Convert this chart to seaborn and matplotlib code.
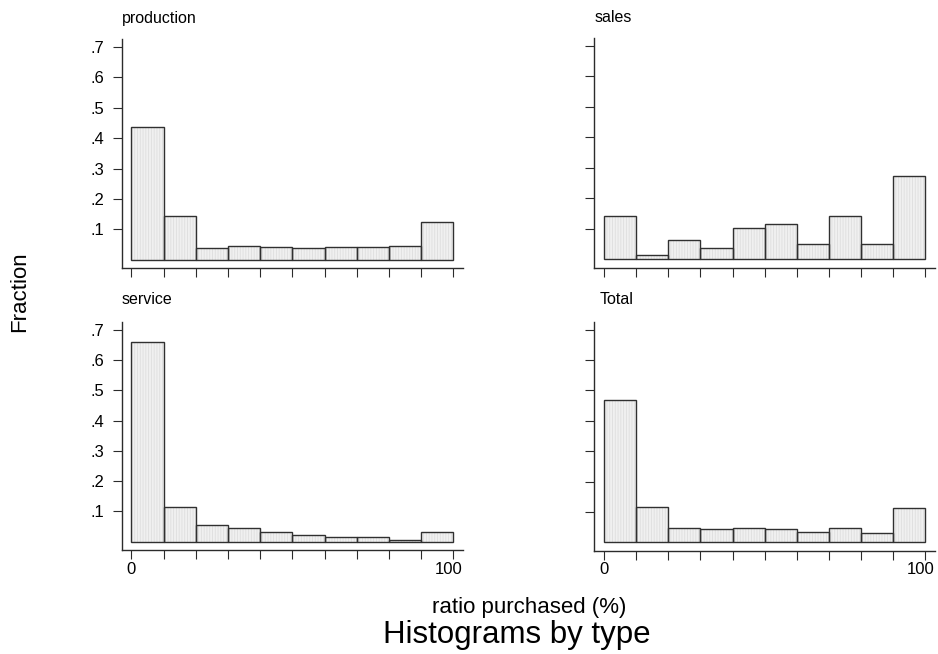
import numpy as np
import pandas as pd
import matplotlib
matplotlib.use("Agg")
import matplotlib.pyplot as plt
import matplotlib.transforms as mtransforms
import seaborn as sns

# ---- data (fractions per 10-point bin of "ratio purchased (%)") ----
bin_edges = [0, 10, 20, 30, 40, 50, 60, 70, 80, 90, 100]
panels = ["production", "sales", "service", "Total"]
production = [0.436, 0.145, 0.040, 0.046, 0.041, 0.039, 0.042, 0.042, 0.046, 0.123]
sales      = [0.142, 0.013, 0.063, 0.039, 0.102, 0.115, 0.052, 0.142, 0.052, 0.272]
service    = [0.658, 0.116, 0.056, 0.045, 0.033, 0.022, 0.017, 0.017, 0.005, 0.033]
total      = [0.467, 0.115, 0.047, 0.044, 0.047, 0.044, 0.034, 0.047, 0.032, 0.113]
y_ticks = [0.1, 0.2, 0.3, 0.4, 0.5, 0.6, 0.7]
y_tick_labels = [".1", ".2", ".3", ".4", ".5", ".6", ".7"]
x_tick_labels = {0: "0", 100: "100"}

series = {"production": production, "sales": sales, "service": service, "Total": total}
centers = [(a + b) / 2 for a, b in zip(bin_edges[:-1], bin_edges[1:])]

sns.set_theme(style="white")
plt.rcParams["font.family"] = ["Liberation Sans", "DejaVu Sans"]
plt.rcParams["text.color"] = "black"
plt.rcParams["hatch.linewidth"] = 0.6

W, H = 938, 654
fig = plt.figure(figsize=(W / 100, H / 100), dpi=100)

# panel boxes in pixels: left, right, top, bottom
boxes = {
    "production": (121.7, 463, 39, 268),
    "sales": (594.3, 935, 38, 267.7),
    "service": (121.7, 463, 321.7, 550),
    "Total": (594.3, 935, 321.7, 550.5),
}
title_pos = {
    "production": (122, 18),
    "sales": (595, 18),
    "service": (122, 300),
    "Total": (600, 300),
}

spine_col = "#2b2b2b"
shift_left = mtransforms.ScaledTranslation(-4.5 / 100, 0, fig.dpi_scale_trans)
for name in panels:
    l, r, t, b = boxes[name]
    ax = fig.add_axes([l / W, 1 - b / H, (r - l) / W, (b - t) / H])
    df = pd.DataFrame({"x": centers, "w": series[name]})
    sns.histplot(data=df, x="x", weights="w", bins=bin_edges, stat="count",
                 color="#f0f0f0", edgecolor="#dedede", linewidth=0,
                 hatch="||||||", alpha=1, ax=ax)
    sns.histplot(data=df, x="x", weights="w", bins=bin_edges, stat="count",
                 fill=False, element="bars", color="#303030",
                 linewidth=1.0, ax=ax)
    ax.set_xlim(-3.0, 103.0)
    ax.set_ylim(-0.027, 0.726)
    ax.set_xlabel("")
    ax.set_ylabel("")
    for s in ["top", "right"]:
        ax.spines[s].set_visible(False)
    for s in ["left", "bottom"]:
        ax.spines[s].set_color(spine_col)
        ax.spines[s].set_linewidth(1.0)
    ax.set_xticks(bin_edges)
    bottom_row = name in ("service", "Total")
    left_col = name in ("production", "service")
    if bottom_row:
        ax.set_xticklabels([x_tick_labels.get(v, "") for v in bin_edges])
    else:
        ax.set_xticklabels([])
    ax.set_yticks(y_ticks)
    if left_col:
        ax.set_yticklabels(y_tick_labels)
    else:
        ax.set_yticklabels([])
    ax.tick_params(axis="both", direction="out", length=6.3, width=0.8,
                   color=spine_col, labelsize=12, labelcolor="black",
                   bottom=True, left=True)
    ax.tick_params(axis="y", pad=6)
    ax.tick_params(axis="x", pad=2.2)
    if bottom_row:
        lab = ax.get_xticklabels()[-1]
        lab.set_transform(lab.get_transform() + shift_left)
    ax.grid(False)
    ax.patch.set_alpha(0)
    tx, ty = title_pos[name]
    fig.text(tx / W, 1 - ty / H, name, fontsize=11.5, va="center", ha="left")

fig.text(20 / W, 1 - 292 / H, "Fraction", rotation=90, fontsize=16,
         va="center", ha="center")
fig.text(529 / W, 1 - 607 / H, "ratio purchased (%)", fontsize=16,
         va="center", ha="center")
fig.text(517 / W, 1 - 635 / H, "Histograms by type", fontsize=22.5,
         va="center", ha="center")

fig.savefig("out.png", dpi=100, facecolor="white")
